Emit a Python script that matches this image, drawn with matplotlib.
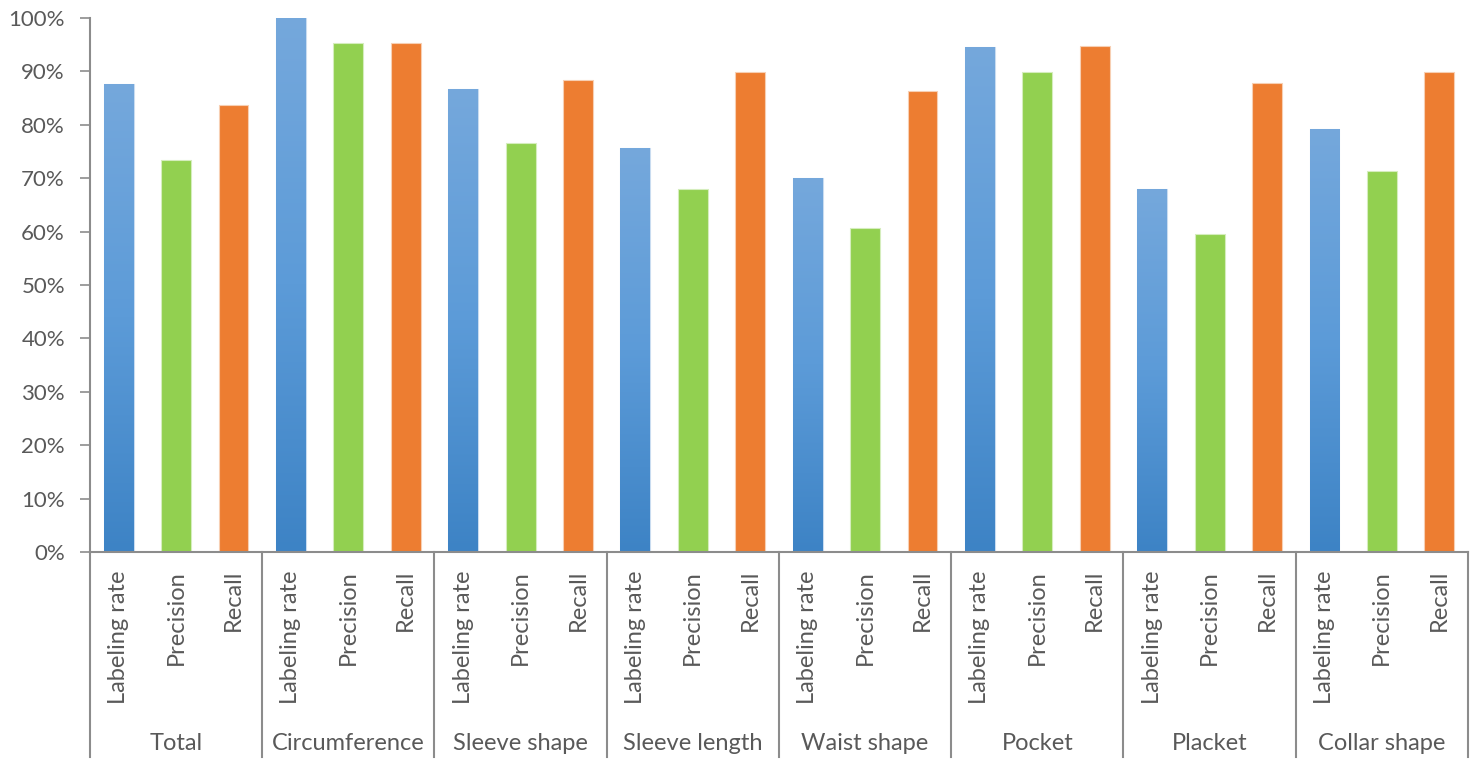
import numpy as np
import matplotlib.pyplot as plt
from matplotlib.colors import LinearSegmentedColormap
from matplotlib.transforms import blended_transform_factory

# Data
groups = ["Total", "Circumference", "Sleeve shape", "Sleeve length",
          "Waist shape", "Pocket", "Placket", "Collar shape"]
metrics = ["Labeling rate", "Precision", "Recall"]
labeling_rate = [0.877, 1.000, 0.867, 0.756, 0.701, 0.946, 0.680, 0.793]
precision = [0.734, 0.953, 0.766, 0.680, 0.606, 0.898, 0.595, 0.714]
recall = [0.838, 0.953, 0.883, 0.898, 0.864, 0.948, 0.879, 0.899]

plt.rcParams['font.family'] = ['Lato', 'DejaVu Sans']
text_col = '#595959'
axis_col = '#8c8c8c'

fig = plt.figure(figsize=(14.77, 7.63), dpi=100)
ax = fig.add_axes([0.0609, 0.2765, 0.9330, 0.6999])

n_cat = len(groups) * len(metrics)
xs = np.arange(n_cat)
values = []
for lr, p, r in zip(labeling_rate, precision, recall):
    values += [lr, p, r]
width = 0.52

blue_cmap = LinearSegmentedColormap.from_list('bl', ['#3d83c5', '#5c9bd8', '#75a8dc'])
grad = np.linspace(0, 1, 256).reshape(-1, 1)

for i, (x, v) in enumerate(zip(xs, values)):
    kind = i % 3
    if kind == 0:
        bar = ax.bar(x, v, width, color='#5b9bd5', edgecolor='#c9dcf0', linewidth=0.8, zorder=2)[0]
        im = ax.imshow(grad, cmap=blue_cmap, origin='lower', aspect='auto',
                       extent=[x - width / 2, x + width / 2, 0, v], zorder=2.5)
        im.set_clip_path(bar)
    elif kind == 1:
        ax.bar(x, v, width, color='#92d050', edgecolor='#d5edbd', linewidth=0.8, zorder=2)
    else:
        ax.bar(x, v, width, color='#ed7d31', edgecolor='#f7cfb3', linewidth=0.8, zorder=2)

ax.set_xlim(-0.5, n_cat - 0.5)
ax.set_ylim(0, 1)
ax.set_yticks(np.arange(0, 1.01, 0.1))
ax.set_yticklabels([f"{int(round(t * 100))}%" for t in np.arange(0, 1.01, 0.1)])
ax.tick_params(axis='y', direction='out', length=7, width=1.2, color=axis_col,
               labelsize=16, labelcolor=text_col, pad=11)

ax.set_xticks(xs)
ax.set_xticklabels(metrics * len(groups), rotation=90, va='top', ha='center')
ax.tick_params(axis='x', length=0, labelsize=17, labelcolor=text_col, pad=13)

for side in ['top', 'right']:
    ax.spines[side].set_visible(False)
for side in ['left', 'bottom']:
    ax.spines[side].set_color(axis_col)
    ax.spines[side].set_linewidth(1.5)

# group separators and group labels below the axis
trans = blended_transform_factory(ax.transData, ax.transAxes)
sep_bottom = -(757 - 552) / 534.0
for g in range(len(groups) + 1):
    xb = g * 3 - 0.5
    ax.plot([xb, xb], [0, sep_bottom], transform=trans, color=axis_col,
            linewidth=1.5, clip_on=False)
for g, name in enumerate(groups):
    ax.text(g * 3 + 1, -(743 - 552) / 534.0, name, transform=trans, ha='center',
            va='center', fontsize=17, color=text_col)

fig.savefig('out.png', dpi=100)
